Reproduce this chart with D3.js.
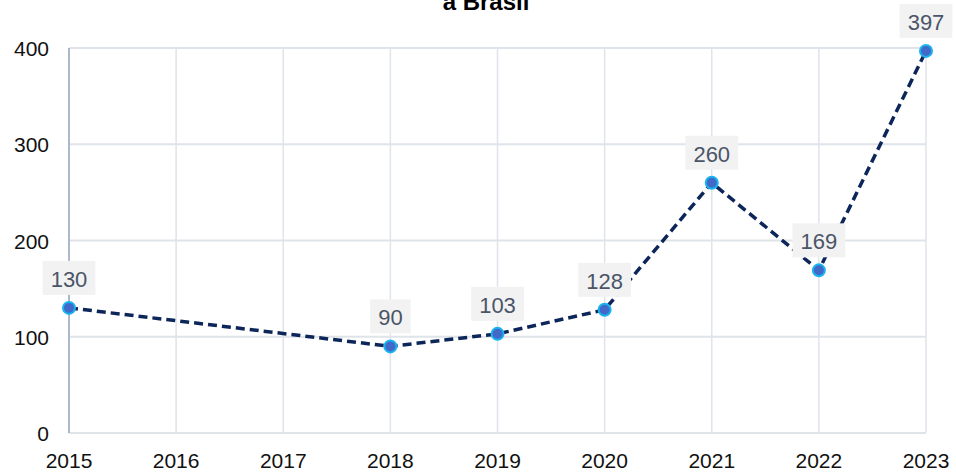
<!DOCTYPE html>
<meta charset="utf-8">
<script src="https://d3js.org/d3.v7.min.js"></script>
<html>
<head>
<style>
body { margin: 0; background: #fff; }
text { font-family: "Liberation Sans", Arial, sans-serif; }
</style>
</head>
<body>
<svg id="chart" width="956" height="474"></svg>
<script>

// data
var years = [2015, 2018, 2019, 2020, 2021, 2022, 2023];
var values = [130, 90, 103, 128, 260, 169, 397];
var xTicks = [2015, 2016, 2017, 2018, 2019, 2020, 2021, 2022, 2023];
var yTicks = [0, 100, 200, 300, 400];
var title = "a Brasil";

var svg = d3.select("#chart"),
    width = +svg.attr("width"),
    height = +svg.attr("height");

var margin = {left: 69, right: 30, top: 48, bottom: 41};

var x = d3.scaleLinear()
    .domain([2015, 2023])
    .range([margin.left, width - margin.right]);

var y = d3.scaleLinear()
    .domain([0, 400])
    .range([height - margin.bottom, margin.top]);

// title (its first line is above the top edge in the reference)
svg.append("text")
    .attr("x", 486)
    .attr("y", 10)
    .attr("text-anchor", "middle")
    .style("font-size", "24px")
    .style("font-weight", "bold")
    .text(title);

// grid
svg.append("g")
  .selectAll("line")
  .data(yTicks)
  .enter()
  .append("line")
    .attr("x1", x(2015)).attr("x2", x(2023))
    .attr("y1", d => y(d)).attr("y2", d => y(d))
    .attr("stroke", "#dfe3ea")
    .attr("stroke-width", 2);

svg.append("g")
  .selectAll("line")
  .data(xTicks.slice(1))
  .enter()
  .append("line")
    .attr("x1", d => x(d)).attr("x2", d => x(d))
    .attr("y1", y(0)).attr("y2", y(400))
    .attr("stroke", "#dfe3ea")
    .attr("stroke-width", 1.5);

// left axis line
svg.append("line")
    .attr("x1", x(2015)).attr("x2", x(2015))
    .attr("y1", y(0)).attr("y2", y(400))
    .attr("stroke", "#aeb8cc")
    .attr("stroke-width", 2);

// tick labels
svg.append("g")
  .selectAll("text")
  .data(yTicks)
  .enter()
  .append("text")
    .attr("x", 49)
    .attr("y", d => y(d) + 8)
    .attr("text-anchor", "end")
    .style("font-size", "21px")
    .attr("fill", "#111")
    .text(d => d);

svg.append("g")
  .selectAll("text")
  .data(xTicks)
  .enter()
  .append("text")
    .attr("x", d => x(d))
    .attr("y", 468)
    .attr("text-anchor", "middle")
    .style("font-size", "21px")
    .attr("fill", "#111")
    .text(d => d);

var pts = years.map((d, i) => ({year: d, value: values[i]}));

// line
svg.append("path")
    .datum(pts)
    .attr("fill", "none")
    .attr("stroke", "#0c2659")
    .attr("stroke-width", 3.5)
    .attr("stroke-dasharray", "9,5")
    .attr("d", d3.line().x(d => x(d.year)).y(d => y(d.value)));

// points
svg.append("g")
  .selectAll("circle")
  .data(pts)
  .enter()
  .append("circle")
    .attr("cx", d => x(d.year))
    .attr("cy", d => y(d.value))
    .attr("r", 6)
    .attr("fill", "#4169c8")
    .attr("stroke", "#18b4f0")
    .attr("stroke-width", 2);

// value labels
var lab = svg.append("g")
  .selectAll("g")
  .data(pts)
  .enter()
  .append("g")
    .attr("transform", d => "translate(" + x(d.year) + "," + y(d.value) + ")");

lab.append("text")
    .attr("text-anchor", "middle")
    .attr("y", -21)
    .style("font-size", "22px")
    .attr("fill", "#4a5568")
    .text(d => d.value);

lab.insert("rect", "text")
    .each(function() {
      var b = this.parentNode.querySelector("text").getBBox();
      d3.select(this)
        .attr("x", b.x - 8)
        .attr("width", b.width + 16);
    })
    .attr("y", -47)
    .attr("height", 34)
    .attr("fill", "#f2f2f2");

</script>
</body>
</html>
